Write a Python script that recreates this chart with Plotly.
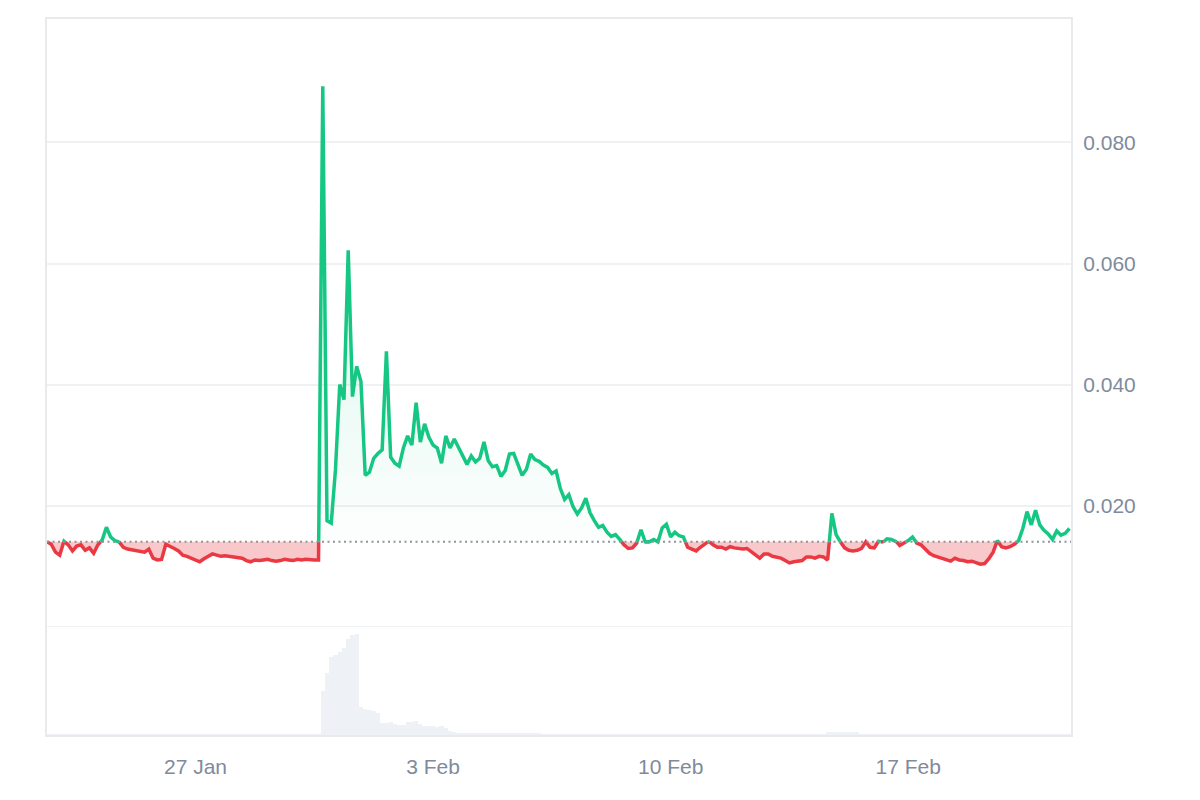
import plotly.graph_objects as go
from datetime import datetime, timedelta

# ---------------- data ----------------
start_time = "2025-01-22 15:00"
step_hours = 3

# price in thousandths of a unit (14.0 -> 0.0140), 3-hour samples
prices_milli = [
    14.0, 13.6, 12.3, 11.8, 14.1, 13.5, 12.5, 13.3, 13.5, 12.6,
    13.0, 12.1, 13.5, 14.3, 16.4, 14.8, 14.2, 14.0, 13.1, 12.8,
    12.7, 12.5, 12.4, 12.3, 12.8, 11.3, 11.0, 11.1, 13.6, 13.3,
    12.9, 12.5, 11.8, 11.6, 11.3, 11.0, 10.7, 11.2, 11.6, 12.0,
    11.8, 11.6, 11.7, 11.6, 11.5, 11.4, 11.3, 10.9, 10.7, 11.0,
    10.9, 11.0, 11.1, 10.9, 10.8, 10.9, 11.1, 11.0, 10.9, 11.1,
    11.0, 11.1, 11.0, 11.0, 11.0, 89.3,
    17.5, 17.1, 26.0, 40.0, 37.5, 62.2, 38.0, 43.0, 40.5, 25.0,
    25.5, 27.8, 28.6, 29.2, 45.5, 28.0, 27.0, 26.5, 29.5, 31.5,
    30.0, 37.0, 30.5, 33.5, 31.3, 30.0, 29.5, 27.0, 31.5, 29.5,
    31.0, 29.5,
    28.0, 26.8, 28.2, 27.2, 27.8, 30.5, 27.4, 26.4, 26.6, 24.8,
    25.8, 28.5, 28.6, 26.8, 25.0, 26.0, 28.5, 27.6, 27.3, 26.7,
    26.3, 25.3, 25.7, 22.8, 21.0, 21.8, 19.8, 18.6, 19.6, 21.2,
    18.8, 17.5, 16.4, 16.7, 15.6, 14.9, 15.2, 14.4, 13.5, 12.9,
    13.0, 13.8,
    16.0, 14.0, 14.0, 14.4, 14.0, 16.3, 16.9, 14.8, 15.6, 15.0,
    14.8, 13.1, 12.8, 12.5, 13.1, 13.7, 14.1, 13.5, 13.1, 13.1,
    12.8, 13.2, 13.0, 12.9, 12.8, 12.9, 12.4, 11.8, 11.3, 12.0,
    12.0, 11.6, 11.4, 11.3, 10.9, 10.5, 10.7, 10.8, 10.9, 11.5,
    11.5, 11.3, 11.6, 11.5, 11.0, 18.7, 15.2, 14.0, 13.0, 12.6,
    12.5, 12.6, 12.9, 14.0, 13.1, 13.0, 14.1, 13.9, 14.5, 14.4,
    14.2, 13.4, 13.8, 14.2, 14.8, 13.8, 13.5, 12.8, 12.1, 11.7,
    11.5, 11.3, 11.1, 10.8, 11.3, 11.0, 10.9, 10.7, 10.8, 10.5,
    10.3, 10.4, 11.2, 12.3, 14.2, 13.2, 13.0, 13.2, 13.6, 14.2,
    16.2, 19.0, 16.8, 19.2, 16.8, 15.9, 15.3, 14.4, 15.8, 15.1,
    15.4, 16.2,
]

# relative trading volume, same 3-hour samples
volume_rel = [
    0.3, 0.3, 0.3, 0.3, 0.3, 0.3, 0.3, 0.3, 0.3, 0.3,
    0.3, 0.3, 0.3, 0.3, 0.4, 0.3, 0.3, 0.3, 0.3, 0.3,
    0.3, 0.3, 0.3, 0.3, 0.3, 0.3, 0.3, 0.3, 0.3, 0.3,
    0.3, 0.3, 0.3, 0.3, 0.3, 0.3, 0.3, 0.3, 0.3, 0.3,
    0.3, 0.3, 0.3, 0.3, 0.3, 0.3, 0.3, 0.3, 0.3, 0.3,
    0.3, 0.3, 0.3, 0.3, 0.3, 0.3, 0.3, 0.3, 0.3, 0.3,
    0.3, 0.3, 0.3, 0.3, 0.3, 44,
    62, 78, 80, 83, 87, 96, 100, 101, 28, 26,
    25, 24, 22, 12, 12, 13, 11, 10, 10, 13,
    13, 14, 11, 9, 9, 9, 8, 9, 7, 4,
    3, 2,
    1.9, 1.9, 1.8, 1.8, 1.8, 1.8, 1.8, 1.8, 1.8, 1.8,
    1.8, 1.8, 1.8, 1.8, 1.8, 1.8, 1.8, 1.8, 1.7, 0.4,
    0.4, 0.4, 0.4, 0.4, 0.4, 0.4, 0.4, 0.4, 0.4, 0.4,
    0.4, 0.4, 0.4, 0.4, 0.4, 0.4, 0.4, 0.4, 0.4, 0.4,
    0.4, 0.4,
    0.4, 0.4, 0.4, 0.4, 0.4, 0.4, 0.4, 0.4, 0.4, 0.4,
    0.4, 0.4, 0.4, 0.4, 0.4, 0.4, 0.4, 0.4, 0.4, 0.4,
    0.4, 0.4, 0.4, 0.4, 0.4, 0.4, 0.4, 0.4, 0.4, 0.4,
    0.4, 0.4, 0.4, 0.4, 0.4, 0.4, 0.4, 0.4, 0.4, 0.4,
    0.4, 0.4, 0.4, 0.4, 2.5, 2.5, 2.5, 2.5, 2.5, 2.5,
    2.5, 2.5, 0.4, 0.4, 0.4, 0.4, 0.4, 0.4, 0.4, 0.4,
    0.4, 0.4, 0.4, 0.4, 0.4, 0.4, 0.4, 0.4, 0.4, 0.4,
    0.4, 0.4, 0.4, 0.4, 0.4, 0.4, 0.4, 0.4, 0.4, 0.4,
    0.4, 0.4, 0.4, 0.4, 0.4, 0.4, 0.4, 0.4, 0.4, 0.4,
    0.4, 0.4, 0.4, 0.4, 0.4, 0.4, 0.4, 0.4, 0.4, 0.4,
    0.4, 0.4,
]

x_tick_dates = ["2025-01-27", "2025-02-03", "2025-02-10", "2025-02-17"]
x_tick_labels = ["27 Jan", "3 Feb", "10 Feb", "17 Feb"]
y_tick_values = [0.0, 0.02, 0.04, 0.06, 0.08]
y_tick_labels = ["", "0.020", "0.040", "0.060", "0.080"]

# ---------------- derived series ----------------
t0 = datetime.strptime(start_time, "%Y-%m-%d %H:%M")
times = [t0 + timedelta(hours=step_hours * i) for i in range(len(prices_milli))]
prices = [m / 1000.0 for m in prices_milli]
base = prices[0]

aug_t, aug_v = [times[0]], [prices[0]]
for i in range(1, len(prices)):
    v0, v1 = prices[i - 1], prices[i]
    if (v0 - base) * (v1 - base) < 0:
        f = (base - v0) / (v1 - v0)
        aug_t.append(times[i - 1] + (times[i] - times[i - 1]) * f)
        aug_v.append(base)
    aug_t.append(times[i])
    aug_v.append(v1)

green_line = [v if v >= base else None for v in aug_v]
red_line = [v if v <= base else None for v in aug_v]
upper = [max(v, base) for v in aug_v]
lower = [min(v, base) for v in aug_v]
base_series = [base for _ in aug_v]

GREEN = "#16c784"
RED = "#ea3943"
GRID = "#eff1f4"
BORDER = "#e8eaed"

fig = go.Figure()

fig.add_trace(go.Bar(x=times, y=volume_rel, yaxis="y2",
                     marker=dict(color="#eef1f5", line=dict(width=0)),
                     hoverinfo="skip"))

fig.add_trace(go.Scatter(x=aug_t, y=base_series, mode="lines",
                         line=dict(width=0), hoverinfo="skip"))
fig.add_trace(go.Scatter(x=aug_t, y=upper, mode="lines", line=dict(width=0),
                         fill="tonexty",
                         fillgradient=dict(type="vertical",
                                           colorscale=[[0, "rgba(22,199,132,0.01)"],
                                                       [1, "rgba(22,199,132,0.10)"]],
                                           start=base, stop=0.045),
                         hoverinfo="skip"))
fig.add_trace(go.Scatter(x=aug_t, y=base_series, mode="lines",
                         line=dict(width=0), hoverinfo="skip"))
fig.add_trace(go.Scatter(x=aug_t, y=lower, mode="lines", line=dict(width=0),
                         fill="tonexty", fillcolor="rgba(234,57,67,0.28)",
                         hoverinfo="skip"))

fig.add_shape(type="line", xref="paper", x0=0, x1=1, yref="y", y0=base, y1=base,
              line=dict(color="#8f949c", width=2, dash="2px,3.5px"), layer="above")

fig.add_trace(go.Scatter(x=aug_t, y=red_line, mode="lines",
                         line=dict(color=RED, width=3.5), connectgaps=False))
fig.add_trace(go.Scatter(x=aug_t, y=green_line, mode="lines",
                         line=dict(color=GREEN, width=3.5), connectgaps=False))

x_end = t0 + timedelta(hours=724, minutes=5)

fig.update_layout(
    width=1200, height=800,
    margin=dict(l=47, r=129, t=19, b=65),
    plot_bgcolor="white", paper_bgcolor="white",
    showlegend=False, bargap=0,
    font=dict(family="Liberation Sans, Arial, sans-serif", size=21, color="#808a9d"),
    xaxis=dict(type="date", range=[t0, x_end], tickmode="array",
               tickvals=x_tick_dates, ticktext=x_tick_labels,
               showgrid=False, zeroline=False, ticks="",
               showline=True, mirror=True, linecolor=BORDER, linewidth=2,
               ticklabelstandoff=12),
    yaxis=dict(side="right", range=[-0.01793, 0.10041], domain=[0, 1],
               tickmode="array", tickvals=y_tick_values, ticktext=y_tick_labels,
               showgrid=True, gridcolor=GRID, gridwidth=1.5, zeroline=False,
               ticks="", showline=True, mirror=True, linecolor=BORDER, linewidth=2,
               ticklabelstandoff=6),
    yaxis2=dict(domain=[0, 0.1508], range=[0, 108], visible=False,
                showgrid=False, zeroline=False),
)

fig.write_html("out.html")
